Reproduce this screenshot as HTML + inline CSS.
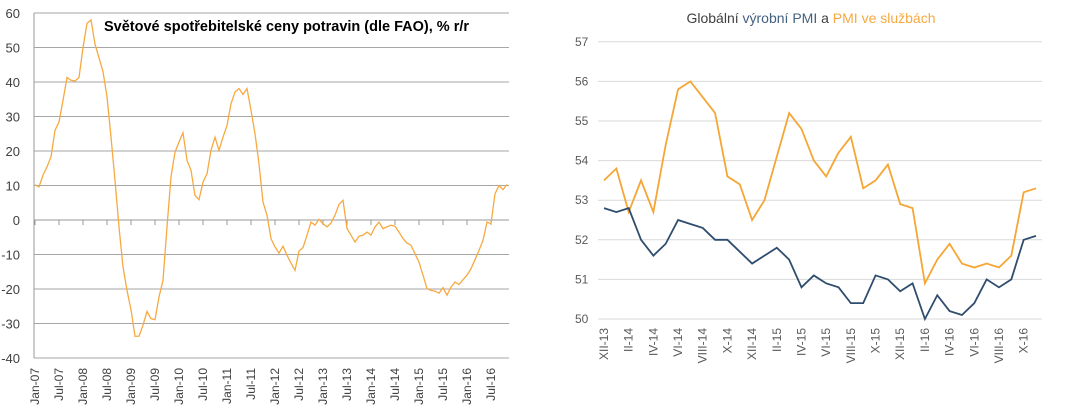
<!DOCTYPE html>
<html><head><meta charset="utf-8"><style>
body{margin:0;background:#fff;width:1086px;height:412px;overflow:hidden;font-family:"Liberation Sans",sans-serif}
svg{position:absolute;top:0;left:0}
</style></head><body>
<svg id="c" width="1086" height="412"></svg>
<script>
const fao=[10.2,9.6,13,15.4,18.3,26,28.4,34.7,41.3,40.5,40.3,41.3,50,57,58,51,47,43,35.7,24,11.5,-2,-13.6,-20.4,-26,-33.7,-33.7,-30.5,-26.5,-28.6,-28.9,-22.3,-17.5,-2,12.5,19.7,22.6,25.3,17.3,14.4,7.1,5.9,11,13.4,20.2,24,20.2,24,27.4,33.7,37.1,38.1,36.4,38.1,31.8,25,16.3,5.2,1.4,-5.4,-7.8,-9.6,-7.6,-10.2,-12.5,-14.6,-9,-8,-4.4,-0.6,-1.5,0.2,-1.1,-2,-0.9,1.4,4.5,5.7,-2.5,-4.4,-6.4,-4.7,-4.4,-3.5,-4.4,-2,-0.6,-2.5,-2,-1.5,-1.8,-3.5,-5.4,-6.7,-7.3,-9.8,-12.2,-16,-19.9,-20.4,-20.6,-21.2,-19.6,-21.8,-19.4,-18,-18.7,-17.3,-16,-14.1,-11.5,-8.8,-5.9,-0.6,-1.1,7.6,10,8.8,10.3];
const faoLabels=["Jan-07","Jul-07","Jan-08","Jul-08","Jan-09","Jul-09","Jan-10","Jul-10","Jan-11","Jul-11","Jan-12","Jul-12","Jan-13","Jul-13","Jan-14","Jul-14","Jan-15","Jul-15","Jan-16","Jul-16"];
const faoTicks=[60,50,40,30,20,10,0,-10,-20,-30,-40];
const services=[53.5,53.8,52.7,53.5,52.7,54.4,55.8,56.0,55.6,55.2,53.6,53.4,52.5,53.0,54.1,55.2,54.8,54.0,53.6,54.2,54.6,53.3,53.5,53.9,52.9,52.8,50.9,51.5,51.9,51.4,51.3,51.4,51.3,51.6,53.2,53.3];
const manuf=[52.8,52.7,52.8,52.0,51.6,51.9,52.5,52.4,52.3,52.0,52.0,51.7,51.4,51.6,51.8,51.5,50.8,51.1,50.9,50.8,50.4,50.4,51.1,51.0,50.7,50.9,50.0,50.6,50.2,50.1,50.4,51.0,50.8,51.0,52.0,52.1];
const pmiLabels=["XII-13","II-14","IV-14","VI-14","VIII-14","X-14","XII-14","II-15","IV-15","VI-15","VIII-15","X-15","XII-15","II-16","IV-16","VI-16","VIII-16","X-16"];
const pmiTicks=[57,56,55,54,53,52,51,50];

const svg=document.getElementById('c');const NS='http://www.w3.org/2000/svg';
function mk(t,a,p){const e=document.createElementNS(NS,t);for(const k in a)e.setAttribute(k,a[k]);(p||svg).appendChild(e);return e;}

// Left chart
const lx=i=>35+i*4.0, ly=v=>220-v*3.45;
const g1=mk('g',{});


faoTicks.forEach(v=>{
  const l=mk('line',{x1:34,x2:509,y1:ly(v),y2:ly(v),stroke:v===0?'#999':'#a6a6a6','stroke-width':1},g1);
  
  
  const t=mk('text',{x:20,y:ly(v)+5,'text-anchor':'end','font-size':13,fill:'#404040'},g1);
  t.textContent=v;
  
  
});
mk('line',{x1:34,x2:34,y1:ly(60),y2:ly(-40),stroke:'#999'},g1);
faoLabels.forEach((s,k)=>{
  const x=lx(k*6);
  mk('line',{x1:x,x2:x,y1:220,y2:225,stroke:'#999'},g1);
  const t=mk('text',{transform:`translate(${x+4},368) rotate(-90)`,'text-anchor':'end','font-size':12,fill:'#404040'},g1);
  t.textContent=s;
  
  
});
const p1=mk('polyline',{points:fao.map((v,i)=>lx(i)+','+ly(v)).join(' '),fill:'none',stroke:'#f7a940','stroke-width':1.3},g1);


const tt=mk('text',{x:104,y:31,'font-size':14.5,'font-weight':'bold',fill:'#000'},g1);
tt.textContent='Světové spotřebitelské ceny potravin (dle FAO), % r/r';



// Right chart
const rx=i=>604+i*12.343, ry=v=>319-(v-50)*39.6;
const g2=mk('g',{});


pmiTicks.forEach(v=>{
  const l=mk('line',{x1:598,x2:1042,y1:ry(v),y2:ry(v),stroke:'#d9d9d9','stroke-width':1},g2);
  
  
  const t=mk('text',{x:575,y:ry(v)+4,'font-size':12,fill:'#595959'},g2);
  t.textContent=v;
  
  
});
pmiLabels.forEach((s,k)=>{
  const t=mk('text',{transform:`translate(${rx(k*2)+4},328) rotate(-90)`,'text-anchor':'end','font-size':12,fill:'#595959'},g2);
  t.textContent=s;
  
  
});
const p2=mk('polyline',{points:services.map((v,i)=>rx(i)+','+ry(v)).join(' '),fill:'none',stroke:'#f5a634','stroke-width':1.8},g2);


const p3=mk('polyline',{points:manuf.map((v,i)=>rx(i)+','+ry(v)).join(' '),fill:'none',stroke:'#2f4d6e','stroke-width':1.8},g2);


const t2=mk('text',{x:811,y:23,'text-anchor':'middle','font-size':14,fill:'#404040'},g2);


t2.innerHTML='Globální <tspan fill="#44607f">výrobní PMI</tspan> a  <tspan fill="#f7a940">PMI ve službách</tspan>';
</script>
</body></html>
